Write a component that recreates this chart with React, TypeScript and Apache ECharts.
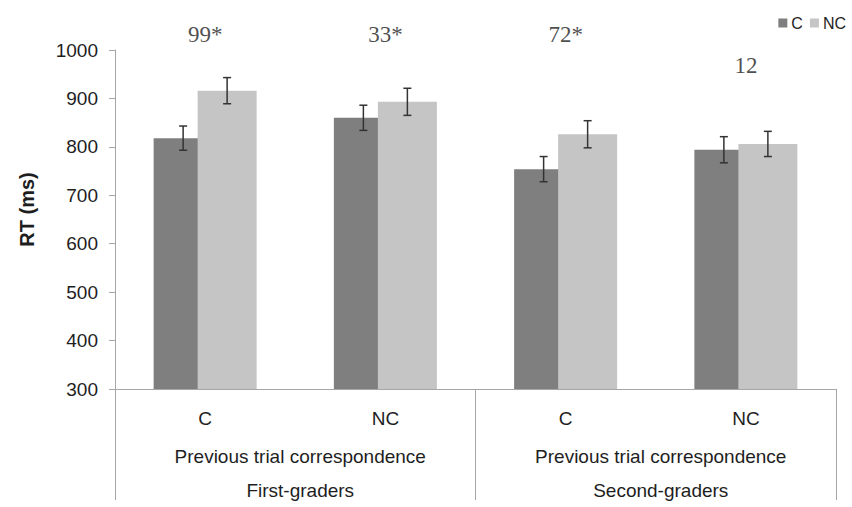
import React, { useEffect, useRef } from "react";
import * as echarts from "echarts";

const categories = ["C", "NC", "C", "NC"];
const groupLabels = ["Previous trial correspondence\nFirst-graders", "Previous trial correspondence\nSecond-graders"];
const seriesNames = ["C", "NC"];
const valuesC = [818, 860, 754, 794];
const valuesNC = [916, 893, 826, 806];
const errorsC = [25, 26, 26, 27];
const errorsNC = [27, 28, 28, 26];
const annotationTexts = ["99*", "33*", "72*", "12"];
const annotationY = [1032, 1032, 1032, 969];

const SANS = "'Liberation Sans', Arial, Helvetica, sans-serif";
const SERIF = "'Liberation Serif', 'Times New Roman', serif";
const AXIS_COLOR = "#a6a6a6";
const TEXT_COLOR = "#1e1e1e";

function errorSeries(name: string, values: number[], errors: number[], offset: number) {
  return {
    name,
    type: "custom",
    xAxisIndex: 0,
    yAxisIndex: 0,
    clip: false,
    z: 5,
    silent: true,
    encode: { x: 0, y: 1 },
    data: values.map((v, i) => [i, v, errors[i]]),
    renderItem: (params: any, api: any) => {
      const idx = api.value(0);
      const v = api.value(1);
      const e = api.value(2);
      const top = api.coord([idx, v + e]);
      const bot = api.coord([idx, v - e]);
      const x = top[0] + offset;
      const cap = 4;
      const style = { stroke: "#333333", lineWidth: 1.5 };
      return {
        type: "group",
        children: [
          { type: "line", shape: { x1: x, y1: top[1], x2: x, y2: bot[1] }, style },
          { type: "line", shape: { x1: x - cap, y1: top[1], x2: x + cap, y2: top[1] }, style },
          { type: "line", shape: { x1: x - cap, y1: bot[1], x2: x + cap, y2: bot[1] }, style },
        ],
      };
    },
  };
}

export default function App() {
  const ref = useRef<HTMLDivElement>(null);

  useEffect(() => {
    if (!ref.current) return;
    const chart = echarts.init(ref.current, undefined, { renderer: "svg" });
    const option: any = {
      animation: false,
      backgroundColor: "#ffffff",
      textStyle: { fontFamily: SANS },
      legend: {
        data: seriesNames,
        right: 1,
        top: 10,
        itemWidth: 9,
        itemHeight: 9,
        itemGap: 7,
        icon: "rect",
        textStyle: { fontSize: 16, color: TEXT_COLOR, fontFamily: SANS, padding: [0, 0, 0, -1] },
      },
      grid: { left: 115, right: 16, top: 50, bottom: 111, containLabel: false },
      xAxis: [
        {
          type: "category",
          data: categories,
          position: "bottom",
          axisLine: { show: true, lineStyle: { color: AXIS_COLOR, width: 1 } },
          axisTick: { show: false },
          axisLabel: { fontSize: 19, color: TEXT_COLOR, fontFamily: SANS, margin: 20 },
          splitLine: { show: false },
        },
        {
          type: "category",
          data: groupLabels,
          position: "bottom",
          axisLine: { show: false },
          axisTick: { show: true, length: 111, inside: false, interval: 0, lineStyle: { color: AXIS_COLOR, width: 1 } },
          axisLabel: {
            fontSize: 19,
            color: TEXT_COLOR,
            fontFamily: SANS,
            margin: 50,
            lineHeight: 34,
            interval: 0,
            padding: [0, 0, 0, 10],
          },
          splitLine: { show: false },
        },
      ],
      yAxis: {
        type: "value",
        min: 300,
        max: 1000,
        interval: 100,
        name: "RT (ms)",
        nameLocation: "middle",
        nameGap: 78,
        nameRotate: 90,
        nameTextStyle: { fontSize: 20, fontWeight: "bold", color: TEXT_COLOR, fontFamily: SANS, padding: [0, 0, 0, 20] },
        axisLine: { show: true, lineStyle: { color: AXIS_COLOR, width: 1 } },
        axisTick: { show: true, length: 6, inside: false, lineStyle: { color: AXIS_COLOR } },
        axisLabel: {
          fontSize: 19,
          color: TEXT_COLOR,
          fontFamily: SANS,
          margin: 17,
          formatter: (v: number) => String(v),
        },
        splitLine: { show: false },
      },
      series: [
        {
          name: "C",
          type: "bar",
          data: valuesC,
          barWidth: 59,
          barGap: "-25.4%",
          itemStyle: { color: "#7f7f7f" },
          z: 2,
        },
        {
          name: "NC",
          type: "bar",
          data: valuesNC,
          barWidth: 59,
          barGap: "-25.4%",
          itemStyle: { color: "#c4c5c4" },
          z: 3,
        },
        errorSeries("errC", valuesC, errorsC, -22),
        errorSeries("errNC", valuesNC, errorsNC, 22),
        {
          name: "annotations",
          type: "scatter",
          data: annotationY.map((y, i) => [i, y, annotationTexts[i]]),
          symbolSize: 1,
          itemStyle: { color: "rgba(0,0,0,0)" },
          clip: false,
          silent: true,
          label: {
            show: true,
            position: "inside",
            formatter: (p: any) => p.data[2],
            fontFamily: SERIF,
            fontSize: 23,
            color: TEXT_COLOR,
          },
        },
      ],
    };
    chart.setOption(option);
    return () => chart.dispose();
  }, []);

  return (
    <div
      ref={ref}
      style={{ position: "fixed", left: 0, top: 0, width: 852, height: 507, background: "#fff" }}
    />
  );
}
